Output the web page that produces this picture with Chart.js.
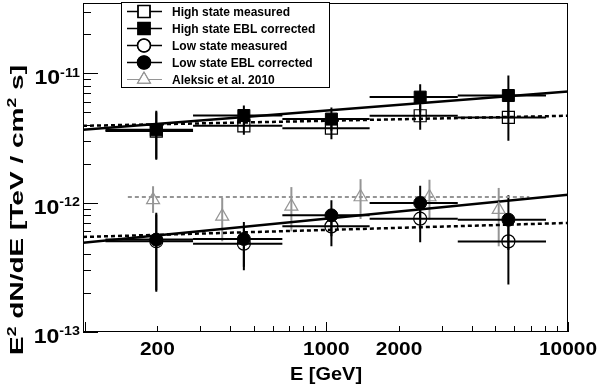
<!DOCTYPE html>
<html lang="en">
<head>
<meta charset="UTF-8">
<title>E2 dN/dE spectrum</title>
<script src="https://cdn.jsdelivr.net/npm/chart.js"></script>
<style>
  body { margin: 0; background: #fff; }
  #wrap { width: 600px; height: 386px; }
</style>
</head>
<body>
<div id="wrap"><canvas id="sed" width="600" height="386"></canvas></div>
<script>
// energy bins (GeV)
var energy = [198, 456, 1050, 2446, 5667];
var binLow = [122, 281, 658, 1511, 3499];
var binHigh = [281, 658, 1511, 3499, 8110];

// high state, E^2 dN/dE in TeV / cm^2 s
var highMeas = [3.58e-12, 3.93e-12, 3.77e-12, 4.70e-12, 4.56e-12];
var highMeasUp = [5.0e-12, 4.7e-12, 4.5e-12, 5.7e-12, 6.3e-12];
var highMeasDown = [2.15e-12, 3.35e-12, 3.10e-12, 3.66e-12, 3.01e-12];
var highEbl = [3.66e-12, 4.72e-12, 4.43e-12, 6.55e-12, 6.74e-12];
var highEblUp = [5.13e-12, 5.64e-12, 5.44e-12, 8.25e-12, 9.62e-12];
var highEblDown = [2.19e-12, 3.9e-12, 3.6e-12, 5.0e-12, 4.6e-12];

// low state
var lowMeas = [5.03e-13, 4.82e-13, 6.56e-13, 7.52e-13, 5.02e-13];
var lowMeasUp = [8.1e-13, 6.6e-13, 8.6e-13, 1.0e-12, 8.0e-13];
var lowMeasDown = [2.05e-13, 3.0e-13, 4.60e-13, 4.94e-13, 2.33e-13];
var lowEbl = [5.18e-13, 5.24e-13, 7.98e-13, 9.95e-13, 7.39e-13];
var lowEblUp = [8.34e-13, 7.10e-13, 1.042e-12, 1.35e-12, 1.14e-12];
var lowEblDown = [2.10e-13, 3.19e-13, 5.5e-13, 7.5e-13, 4.3e-13];

// Aleksic et al. 2010
var alekE = [192, 371, 717, 1386, 2672, 5168];
var alekF = [1.05e-12, 7.84e-13, 9.36e-13, 1.106e-12, 1.106e-12, 8.83e-13];
var alekUp = [1.34e-12, 1.087e-12, 1.32e-12, 1.52e-12, 1.505e-12, 1.30e-12];
var alekDown = [8.33e-13, 5.03e-13, 6.0e-13, 7.48e-13, 7.39e-13, 4.60e-13];

// power law fits, value at start and end energy
var fitE = [98.5, 10000];
var highEblFit = [3.66e-12, 7.24e-12];
var highMeasFit = [3.93e-12, 4.70e-12];
var lowEblFit = [4.89e-13, 1.153e-12];
var lowMeasFit = [5.43e-13, 6.97e-13];
var alekFitE = [151, 6918];
var alekFit = [1.106e-12, 1.106e-12];

var xTickLabels = [200, 1000, 2000, 10000];
var yTickLabels = [1e-13, 1e-12, 1e-11];

var GREY = '#959595';
var FONT = '"Liberation Sans", Arial, sans-serif';

function pts(xs, ys) {
    return xs.map(function (x, i) { return { x: x, y: ys[i] }; });
}

// draw text with superscript parts, optional horizontal stretch
function richText(ctx, parts, x, y, size, align, stretch, rot, fitWidth) {
    ctx.save();
    var widths = parts.map(function (p) {
        ctx.font = 'bold ' + (p[1] ? Math.round(size * 0.62) : size) + 'px ' + FONT;
        return ctx.measureText(p[0]).width;
    });
    var total = widths.reduce(function (a, b) { return a + b; }, 0);
    if (fitWidth) stretch = fitWidth / total;
    ctx.translate(x, y);
    if (rot) ctx.rotate(rot);
    ctx.scale(stretch, 1);
    var cx = align === 'center' ? -total / 2 : (align === 'right' ? -total : 0);
    ctx.fillStyle = '#000';
    ctx.textBaseline = 'alphabetic';
    ctx.textAlign = 'left';
    parts.forEach(function (p, i) {
        ctx.font = 'bold ' + (p[1] ? Math.round(size * 0.62) : size) + 'px ' + FONT;
        ctx.fillText(p[0], cx, p[1] ? -size * 0.36 : 0);
        cx += widths[i];
    });
    ctx.restore();
}

var legendItems = [
    { text: 'High state measured', style: 'rect', r: 8.5, fill: 'rgba(0,0,0,0)', color: '#000' },
    { text: 'High state EBL corrected', style: 'rect', r: 8.5, fill: '#000', color: '#000' },
    { text: 'Low state measured', style: 'circle', r: 6.5, fill: 'rgba(0,0,0,0)', color: '#000' },
    { text: 'Low state EBL corrected', style: 'circle', r: 6.5, fill: '#000', color: '#000' },
    { text: 'Aleksic et al. 2010', style: 'triangle', r: 7.5, fill: 'rgba(0,0,0,0)', color: GREY }
];

var rootStyle = {
    id: 'rootStyle',
    beforeDatasetsDraw: function (chart) {
        var ctx = chart.ctx, xs = chart.scales.x, ys = chart.scales.y, a = chart.chartArea;
        ctx.save();
        ctx.beginPath();
        ctx.rect(a.left, a.top, a.right - a.left, a.bottom - a.top);
        ctx.clip();
        chart.data.datasets.forEach(function (ds) {
            if (!ds.errUp) return;
            ctx.strokeStyle = ds.errColor;
            ctx.lineWidth = 2;
            ds.data.forEach(function (p, i) {
                var px = xs.getPixelForValue(p.x), py = ys.getPixelForValue(p.y);
                ctx.beginPath();
                ctx.moveTo(px, ys.getPixelForValue(ds.errUp[i]));
                ctx.lineTo(px, ys.getPixelForValue(ds.errDown[i]));
                if (ds.xLow) {
                    ctx.moveTo(xs.getPixelForValue(ds.xLow[i]), py);
                    ctx.lineTo(xs.getPixelForValue(ds.xHigh[i]), py);
                }
                ctx.stroke();
            });
        });
        ctx.restore();
    },
    afterDraw: function (chart) {
        var ctx = chart.ctx, xs = chart.scales.x, ys = chart.scales.y, a = chart.chartArea;
        ctx.save();
        ctx.strokeStyle = '#000';
        ctx.lineWidth = 1;
        ctx.strokeRect(a.left + 0.5, a.top + 0.5, a.right - a.left - 1, a.bottom - a.top - 1);

        // inward log ticks
        ctx.beginPath();
        for (var d = 2; d <= 4; d++) {
            for (var m = 1; m <= 9; m++) {
                var v = m * Math.pow(10, d);
                if (v < xs.min || v > xs.max) continue;
                var px = Math.round(xs.getPixelForValue(v)) + 0.5;
                ctx.moveTo(px, a.bottom);
                ctx.lineTo(px, a.bottom - (m === 1 ? 10 : 6));
            }
        }
        for (d = -13; d <= -11; d++) {
            for (m = 1; m <= 9; m++) {
                v = m * Math.pow(10, d);
                if (v < ys.min * 0.999 || v > ys.max) continue;
                var py = Math.round(ys.getPixelForValue(v)) + 0.5;
                ctx.moveTo(a.left, py);
                ctx.lineTo(a.left + (m === 1 ? 15 : 8), py);
            }
        }
        ctx.stroke();

        xTickLabels.forEach(function (v) {
            richText(ctx, [[String(v), false]], xs.getPixelForValue(v), 355, 19, 'center', 1.1);
        });
        yTickLabels.forEach(function (v) {
            var e = Math.round(Math.log10(v));
            richText(ctx, [['10', false], [String(e), true]], 80, ys.getPixelForValue(v) + 11, 21, 'right', 1.1);
        });
        richText(ctx, [['E [GeV]', false]], 326, 380, 19, 'center', 1.05);
        richText(ctx, [['E', false], ['2', true], [' dN/dE [TeV / cm', false], ['2', true], [' s]', false]],
            23, 210, 19, 'center', 1, -Math.PI / 2, 290);

        // legend box
        ctx.fillStyle = '#fff';
        ctx.fillRect(121, 2, 209, 86);
        ctx.strokeRect(121.5, 2.5, 208, 85);
        legendItems.forEach(function (it, i) {
            var cy = 11.5 + 17 * i;
            ctx.strokeStyle = it.color;
            ctx.lineWidth = it.color === '#000' ? 1.5 : 1;
            ctx.beginPath();
            ctx.moveTo(127, cy);
            ctx.lineTo(162, cy);
            ctx.stroke();
            ctx.fillStyle = '#fff';
            Chart.helpers.drawPoint(ctx, { pointStyle: it.style, radius: it.r, rotation: 0, borderWidth: 1 }, 144, cy);
            ctx.fillStyle = it.fill;
            ctx.lineWidth = 1.2;
            Chart.helpers.drawPoint(ctx, { pointStyle: it.style, radius: it.r, rotation: 0, borderWidth: 1.2 }, 144, cy);
            ctx.fillStyle = '#000';
            ctx.font = 'bold 12px ' + FONT;
            ctx.textAlign = 'left';
            ctx.textBaseline = 'alphabetic';
            ctx.fillText(it.text, 172, cy + 4.5);
        });
        ctx.restore();
    }
};

function fitLine(xs, ys, color, dash, width, order) {
    return {
        data: pts(xs, ys), showLine: true, pointRadius: 0, borderColor: color,
        borderWidth: width, borderDash: dash, order: order
    };
}

var datasets = [
    fitLine(alekFitE, alekFit, GREY, [4, 3], 2, 10),
    fitLine(fitE, highEblFit, '#000', [], 2.5, 9),
    fitLine(fitE, highMeasFit, '#000', [4, 3], 2.5, 8),
    fitLine(fitE, lowEblFit, '#000', [], 2.5, 7),
    fitLine(fitE, lowMeasFit, '#000', [4, 3], 2.5, 6),
    {
        label: 'Aleksic et al. 2010', data: pts(alekE, alekF), pointStyle: 'triangle', pointRadius: 7.5,
        backgroundColor: 'rgba(255,255,255,0)', borderColor: GREY, borderWidth: 1.2, order: 5,
        errUp: alekUp, errDown: alekDown, errColor: GREY
    },
    {
        label: 'High state measured', data: pts(energy, highMeas), pointStyle: 'rect', pointRadius: 8.5,
        backgroundColor: 'rgba(255,255,255,0)', borderColor: '#000', borderWidth: 1.2, order: 4,
        errUp: highMeasUp, errDown: highMeasDown, xLow: binLow, xHigh: binHigh, errColor: '#000'
    },
    {
        label: 'Low state measured', data: pts(energy, lowMeas), pointStyle: 'circle', pointRadius: 6.5,
        backgroundColor: 'rgba(255,255,255,0)', borderColor: '#000', borderWidth: 1.2, order: 3,
        errUp: lowMeasUp, errDown: lowMeasDown, xLow: binLow, xHigh: binHigh, errColor: '#000'
    },
    {
        label: 'High state EBL corrected', data: pts(energy, highEbl), pointStyle: 'rect', pointRadius: 8.5,
        backgroundColor: '#000', borderColor: '#000', borderWidth: 1, order: 2,
        errUp: highEblUp, errDown: highEblDown, xLow: binLow, xHigh: binHigh, errColor: '#000'
    },
    {
        label: 'Low state EBL corrected', data: pts(energy, lowEbl), pointStyle: 'circle', pointRadius: 6.5,
        backgroundColor: '#000', borderColor: '#000', borderWidth: 1, order: 1,
        errUp: lowEblUp, errDown: lowEblDown, xLow: binLow, xHigh: binHigh, errColor: '#000'
    }
];

var ctx = document.getElementById('sed').getContext('2d');
var chart = new Chart(ctx, {
    type: 'scatter',
    data: { datasets: datasets },
    options: {
        responsive: false,
        animation: false,
        devicePixelRatio: 1,
        layout: { autoPadding: false, padding: { left: 83, right: 32, top: 3, bottom: 54 } },
        plugins: { legend: { display: false }, tooltip: { enabled: false } },
        scales: {
            x: { type: 'logarithmic', min: 98.5, max: 10000, display: false },
            y: { type: 'logarithmic', min: 1e-13, max: 3.5e-11, display: false }
        }
    },
    plugins: [rootStyle]
});
</script>
</body>
</html>
